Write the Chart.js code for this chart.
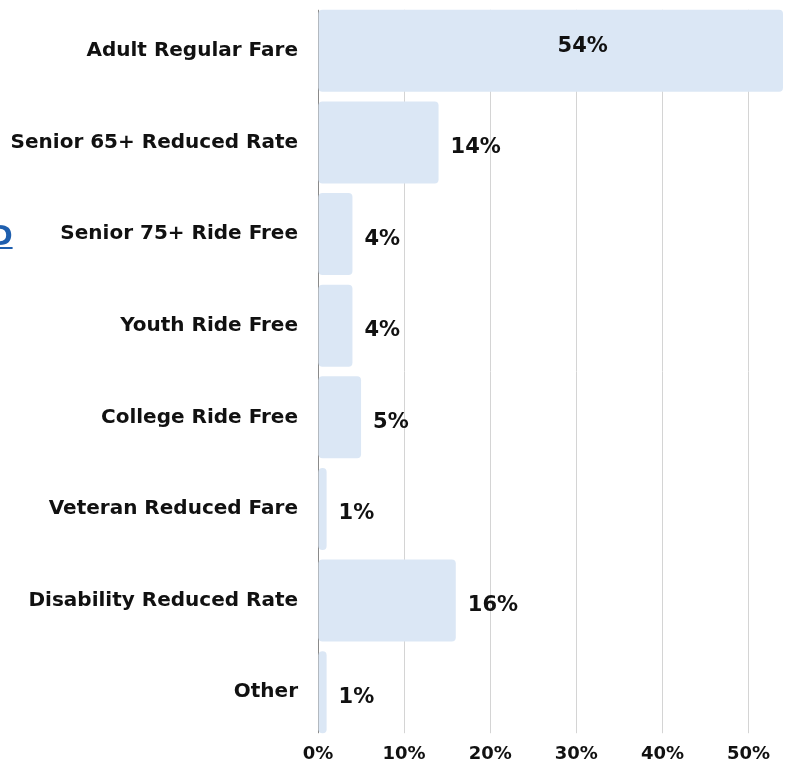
<!DOCTYPE html>
<html>
<head>
<meta charset="utf-8">
<script src="https://cdn.jsdelivr.net/npm/chart.js@4"></script>
<style>
  html, body { margin: 0; padding: 0; background: #fff; }
  #wrap { position: relative; width: 788px; height: 765px; overflow: hidden; }
  #frag { position: absolute; left: -9px; top: 221px; font: bold 26px "DejaVu Sans", sans-serif; color: #1f5fae; text-decoration: underline; }
</style>
</head>
<body>
<div id="wrap">
  <canvas id="c" width="788" height="765"></canvas>
  <div id="frag">D</div>
</div>
<script>
const categories = ["Adult Regular Fare", "Senior 65+ Reduced Rate", "Senior 75+ Ride Free", "Youth Ride Free", "College Ride Free", "Veteran Reduced Fare", "Disability Reduced Rate", "Other"];
const shares = [54, 14, 4, 4, 5, 1, 16, 1];
const tickValues = [0, 10, 20, 30, 40, 50];

const FONT = '"DejaVu Sans", sans-serif';

// grid lines only span from the first bar's top to the last bar's bottom
const trimGrid = {
  id: 'trimGrid',
  beforeDatasetsDraw(chart) {
    const meta = chart.getDatasetMeta(0);
    const a = chart.chartArea;
    if (!meta.data.length) return;
    const first = meta.data[0], last = meta.data[meta.data.length - 1];
    const topEdge = first.y - first.height / 2;
    const botEdge = last.y + last.height / 2;
    const ctx = chart.ctx;
    ctx.save();
    ctx.fillStyle = '#fff';
    ctx.fillRect(a.left - 2, a.top - 1, a.right - a.left + 4, topEdge - a.top + 1);
    ctx.fillRect(a.left - 2, botEdge, a.right - a.left + 4, a.bottom - botEdge + 1);
    ctx.restore();
  }
};

const labelPlugin = {
  id: 'barLabels',
  afterDatasetsDraw(chart) {
    const ctx = chart.ctx;
    const meta = chart.getDatasetMeta(0);
    ctx.save();
    ctx.font = 'bold 21px ' + FONT;
    ctx.fillStyle = '#111';
    ctx.textBaseline = 'middle';
    meta.data.forEach((bar, i) => {
      const v = shares[i];
      const txt = v + '%';
      if (v > 40) {
        ctx.textAlign = 'center';
        ctx.fillText(txt, (bar.x + bar.base) / 2 + 32, bar.y - 4);
      } else {
        ctx.textAlign = 'left';
        ctx.fillText(txt, bar.x + 12, bar.y + 5);
      }
    });
    ctx.restore();
  }
};

new Chart(document.getElementById('c'), {
  type: 'bar',
  data: {
    labels: categories,
    datasets: [{
      data: shares,
      backgroundColor: '#dbe7f5',
      borderRadius: 4,
      borderSkipped: false,
      barPercentage: 0.895,
      categoryPercentage: 1
    }]
  },
  options: {
    indexAxis: 'y',
    responsive: false,
    animation: false,
    layout: { padding: { top: 5, right: 5, left: 0, bottom: 0 } },
    plugins: { legend: { display: false }, tooltip: { enabled: false } },
    scales: {
      x: {
        min: 0, max: 54,
        afterBuildTicks: s => { s.ticks = tickValues.map(v => ({ value: v })); },
        afterFit: s => { s.height = 27; s.paddingLeft = 0; s.paddingRight = 0; },
        grid: { color: ctx => ctx.tick && ctx.tick.value === 0 ? 'rgba(0,0,0,0)' : '#d4d4d4', drawTicks: false, lineWidth: 1 },
        border: { display: false },
        ticks: { padding: 6, color: '#111', font: { family: FONT, size: 18, weight: 'bold' }, callback: v => v + '%' }
      },
      y: {
        afterFit: s => { s.width = 318; s.paddingTop = 0; s.paddingBottom = 0; },
        grid: { display: false, drawTicks: false },
        border: { display: true, color: '#8a8a8a', width: 1 },
        ticks: { padding: 20, color: '#111', font: { family: FONT, size: 20, weight: 'bold' } }
      }
    }
  },
  plugins: [trimGrid, labelPlugin]
});
</script>
</body>
</html>
